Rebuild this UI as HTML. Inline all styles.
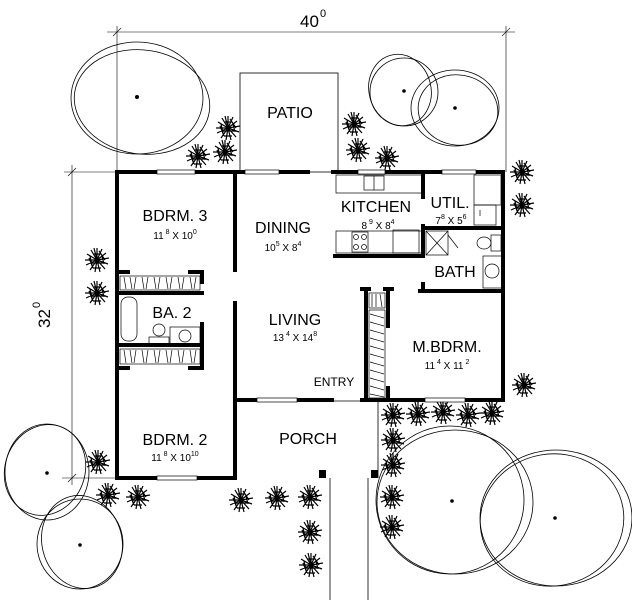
<!DOCTYPE html>
<html><head><meta charset="utf-8"><style>
html,body{margin:0;padding:0;background:#fff;}
svg{display:block;}
text{font-family:"Liberation Sans",sans-serif;fill:#000;}
.rn{font-size:16px;text-anchor:middle;}
.dm{font-size:10px;text-anchor:middle;}
</style></head><body>
<svg width="632" height="600" viewBox="0 0 632 600" xmlns="http://www.w3.org/2000/svg">
<defs>
<g id="sh" stroke="#000" stroke-width="1.2" fill="none">
<path d="M0 0L0 -12M0 0L5 -11M0 0L9 -7M0 0L12 -2M0 0L11 4M0 0L8 9M0 0L3 12M0 0L-2 12M0 0L-7 10M0 0L-11 5M0 0L-12 0M0 0L-10 -6M0 0L-6 -10M0 0L-3 -12M-3 -6L3 -6M-6 3L6 3M-4 8L4 8M5 -4L7 4M-7 -4L-5 5M-8 -2L-4 8M2 -9L8 0"/>
</g>
</defs>
<g stroke="#000" stroke-width="0.6" fill="none">
<line x1="107" y1="32" x2="515" y2="32"/>
<line x1="117" y1="26" x2="117" y2="172"/>
<line x1="506" y1="26" x2="506" y2="172"/>
<line x1="113" y1="36" x2="121" y2="28"/><line x1="502" y1="36" x2="510" y2="28"/>
<line x1="72" y1="165" x2="72" y2="485"/>
<line x1="64" y1="172" x2="117" y2="172"/>
<line x1="62" y1="478" x2="117" y2="478"/>
<line x1="68" y1="176" x2="76" y2="168"/><line x1="68" y1="482" x2="76" y2="474"/>
</g>
<text x="300" y="27" style="font-size:17px">40</text><text x="320" y="17" style="font-size:11px">0</text>
<g transform="translate(50,318) rotate(-90)"><text x="-10" y="0" style="font-size:17px">32</text><text x="10" y="-10" style="font-size:11px">0</text></g>
<g stroke="#000" stroke-width="0.8" fill="none">
<ellipse cx="137" cy="98" rx="66" ry="56"/><ellipse cx="142" cy="102" rx="68" ry="52" transform="rotate(8 142 102)"/>
<ellipse cx="404" cy="92" rx="34" ry="34"/><ellipse cx="400" cy="90" rx="31" ry="36" transform="rotate(-15 400 90)"/>
<ellipse cx="455" cy="108" rx="44" ry="38"/><ellipse cx="458" cy="110" rx="40" ry="35" transform="rotate(10 458 110)"/>
<ellipse cx="47" cy="472" rx="42" ry="48"/><ellipse cx="45" cy="470" rx="40" ry="46" transform="rotate(20 45 470)"/>
<ellipse cx="80" cy="544" rx="43" ry="45"/><ellipse cx="82" cy="542" rx="40" ry="47" transform="rotate(-15 82 542)"/>
<ellipse cx="455" cy="502" rx="78" ry="72"/><ellipse cx="450" cy="500" rx="74" ry="74" transform="rotate(12 450 500)"/>
<ellipse cx="556" cy="518" rx="76" ry="68"/><ellipse cx="552" cy="520" rx="72" ry="66" transform="rotate(-10 552 520)"/>
</g>
<g fill="#000"><circle cx="137" cy="97" r="2"/><circle cx="404" cy="91" r="1.8"/><circle cx="455" cy="108" r="1.8"/><circle cx="47" cy="473" r="1.8"/><circle cx="80" cy="545" r="1.8"/><circle cx="452" cy="501" r="1.8"/><circle cx="555" cy="518" r="1.8"/></g>
<use href="#sh" x="228" y="128"/><use href="#sh" x="225" y="152"/><use href="#sh" x="198" y="156"/>
<use href="#sh" x="354" y="124"/><use href="#sh" x="358" y="150"/><use href="#sh" x="387" y="158"/>
<use href="#sh" x="522" y="172"/><use href="#sh" x="522" y="205"/><use href="#sh" x="97" y="260"/><use href="#sh" x="97" y="293"/>
<use href="#sh" x="524" y="385"/>
<use href="#sh" x="393" y="415"/><use href="#sh" x="418" y="414"/><use href="#sh" x="443" y="412"/><use href="#sh" x="468" y="415"/><use href="#sh" x="492" y="413"/>
<use href="#sh" x="393" y="440"/><use href="#sh" x="393" y="465"/><use href="#sh" x="392" y="497"/><use href="#sh" x="392" y="527"/>
<use href="#sh" x="98" y="462"/><use href="#sh" x="108" y="495"/><use href="#sh" x="138" y="497"/>
<use href="#sh" x="241" y="500"/><use href="#sh" x="277" y="498"/><use href="#sh" x="310" y="497"/><use href="#sh" x="310" y="532"/><use href="#sh" x="311" y="565"/>
<g stroke="#000" stroke-width="0.8" fill="none">
<rect x="240" y="73" width="98" height="99"/>
<polyline points="237,401 378,401 378,478"/>
<line x1="330" y1="478" x2="330" y2="600"/><line x1="368" y1="478" x2="368" y2="600"/>
</g>
<rect x="319" y="470" width="7" height="8"/><rect x="371" y="470" width="7" height="8"/>
<g stroke="#000" stroke-width="4" fill="none" stroke-linecap="square">
<line x1="117" y1="172" x2="308" y2="172"/><line x1="333" y1="172" x2="503" y2="172"/>
<line x1="117" y1="172" x2="117" y2="478"/><line x1="117" y1="478" x2="235" y2="478"/>
<line x1="503" y1="172" x2="503" y2="400"/>
<line x1="235" y1="400" x2="332" y2="400"/><line x1="362" y1="400" x2="503" y2="400"/>
<line x1="235" y1="172" x2="235" y2="270"/><line x1="235" y1="303" x2="235" y2="478"/>
<line x1="117" y1="272" x2="128" y2="272"/><line x1="190" y1="272" x2="202" y2="272"/><line x1="202" y1="272" x2="202" y2="282"/>
<line x1="117" y1="293" x2="202" y2="293"/><line x1="117" y1="345" x2="202" y2="345"/>
<line x1="202" y1="324" x2="202" y2="345"/><line x1="202" y1="345" x2="202" y2="355"/>
<line x1="117" y1="368" x2="128" y2="368"/><line x1="190" y1="368" x2="202" y2="368"/><line x1="202" y1="358" x2="202" y2="368"/>
<line x1="335" y1="256" x2="423" y2="256"/>
<line x1="423" y1="172" x2="423" y2="197"/><line x1="423" y1="226" x2="423" y2="256"/><line x1="423" y1="284" x2="423" y2="291"/>
<line x1="423" y1="228" x2="503" y2="228"/><line x1="420" y1="291" x2="503" y2="291"/>
<line x1="366" y1="289" x2="366" y2="400"/><line x1="388" y1="289" x2="388" y2="326"/><line x1="388" y1="388" x2="388" y2="400"/>
<line x1="362" y1="289" x2="369" y2="289"/><line x1="385" y1="289" x2="392" y2="289"/>
</g>
<g fill="#fff" stroke="#000" stroke-width="0.7">
<rect x="157" y="170" width="38" height="4"/><rect x="245" y="170" width="34" height="4"/><rect x="358" y="170" width="27" height="4"/><rect x="442" y="170" width="34" height="4"/>
<rect x="257" y="398" width="40" height="4"/><rect x="425" y="398" width="40" height="4"/><rect x="157" y="476" width="40" height="4"/>
</g>
<g stroke="#000" stroke-width="0.7" fill="none">
<rect x="336" y="175" width="86" height="18"/><rect x="364" y="176" width="20" height="14"/><line x1="374" y1="176" x2="374" y2="190"/>
<rect x="336" y="231" width="87" height="22"/><rect x="352" y="232" width="16" height="20"/><rect x="393" y="230" width="26" height="23"/>
<circle cx="356" cy="237" r="2.5"/><circle cx="364" cy="237" r="2.5"/><circle cx="356" cy="247" r="2.5"/><circle cx="364" cy="247" r="2.5"/>
<rect x="474" y="175" width="27" height="30"/><rect x="474" y="205" width="22" height="20"/><line x1="480" y1="210" x2="480" y2="216"/>
<rect x="426" y="231" width="22" height="24"/><line x1="426" y1="231" x2="448" y2="255"/><line x1="448" y1="231" x2="426" y2="255"/><line x1="448" y1="235" x2="458" y2="248"/>
<ellipse cx="484" cy="243" rx="7" ry="6"/><rect x="491" y="235" width="10" height="16"/>
<rect x="483" y="256" width="19" height="32"/><circle cx="492" cy="271" r="7"/>
<rect x="121" y="297" width="16" height="44" rx="7"/><circle cx="159" cy="330" r="6"/><rect x="149" y="337" width="20" height="7"/>
<rect x="170" y="327" width="30" height="17"/><circle cx="185" cy="336" r="6"/>
<rect x="120" y="276" width="80" height="14"/><rect x="120" y="349" width="80" height="15"/>
<path d="M124 277l2 12M130 277l2 12M136 277l-2 12M142 277l2 12M148 277l-2 12M154 277l2 12M160 277l-2 12M166 277l2 12M172 277l-2 12M178 277l2 12M184 277l-2 12M190 277l2 12M196 277l-2 12"/>
<path d="M124 350l2 13M130 350l2 13M136 350l-2 13M142 350l2 13M148 350l-2 13M154 350l2 13M160 350l-2 13M166 350l2 13M172 350l-2 13M178 350l2 13M184 350l-2 13M190 350l2 13M196 350l-2 13"/>
<rect x="369" y="293" width="16" height="15"/><path d="M372 294v13M376 294v13M380 294l2 13"/>
<rect x="369" y="310" width="16" height="88"/>
<path d="M370 314l14 4M370 322l14 4M370 330l14 4M370 338l14 4M370 346l14 4M370 354l14 4M370 362l14 4M370 370l14 4M370 378l14 4M370 386l14 4M370 394l14 3"/>
</g>
<text class="rn" x="290" y="118">PATIO</text>
<text class="rn" x="175" y="221">BDRM. 3</text><text class="dm" x="175" y="239">11<tspan dy="-5" style="font-size:7px"> 8</tspan><tspan dy="5"> X 10</tspan><tspan dy="-5" style="font-size:7px">0</tspan></text>
<text class="rn" x="283" y="233">DINING</text><text class="dm" x="283" y="251">10<tspan dy="-5" style="font-size:7px">5</tspan><tspan dy="5"> X 8</tspan><tspan dy="-5" style="font-size:7px">4</tspan></text>
<text class="rn" x="376" y="212">KITCHEN</text><text class="dm" x="378" y="229">8<tspan dy="-5" style="font-size:7px"> 9</tspan><tspan dy="5"> X 8</tspan><tspan dy="-5" style="font-size:7px">4</tspan></text>
<text class="rn" x="450" y="208">UTIL.</text><text class="dm" x="451" y="224">7<tspan dy="-5" style="font-size:7px">8</tspan><tspan dy="5"> X 5</tspan><tspan dy="-5" style="font-size:7px">6</tspan></text>
<text class="rn" x="455" y="277">BATH</text>
<text class="rn" x="172" y="318">BA. 2</text>
<text class="rn" x="295" y="325">LIVING</text><text class="dm" x="295" y="341">13<tspan dy="-5" style="font-size:7px"> 4</tspan><tspan dy="5"> X 14</tspan><tspan dy="-5" style="font-size:7px">8</tspan></text>
<text class="rn" x="447" y="352">M.BDRM.</text><text class="dm" x="447" y="369">11<tspan dy="-5" style="font-size:7px"> 4</tspan><tspan dy="5"> X 11</tspan><tspan dy="-5" style="font-size:7px"> 2</tspan></text>
<text x="334" y="386" style="font-size:12px;text-anchor:middle">ENTRY</text>
<text class="rn" x="175" y="445">BDRM. 2</text><text class="dm" x="175" y="461">11<tspan dy="-5" style="font-size:7px"> 8</tspan><tspan dy="5"> X 10</tspan><tspan dy="-5" style="font-size:7px">10</tspan></text>
<text class="rn" x="308" y="444">PORCH</text>
</svg>
</body></html>
